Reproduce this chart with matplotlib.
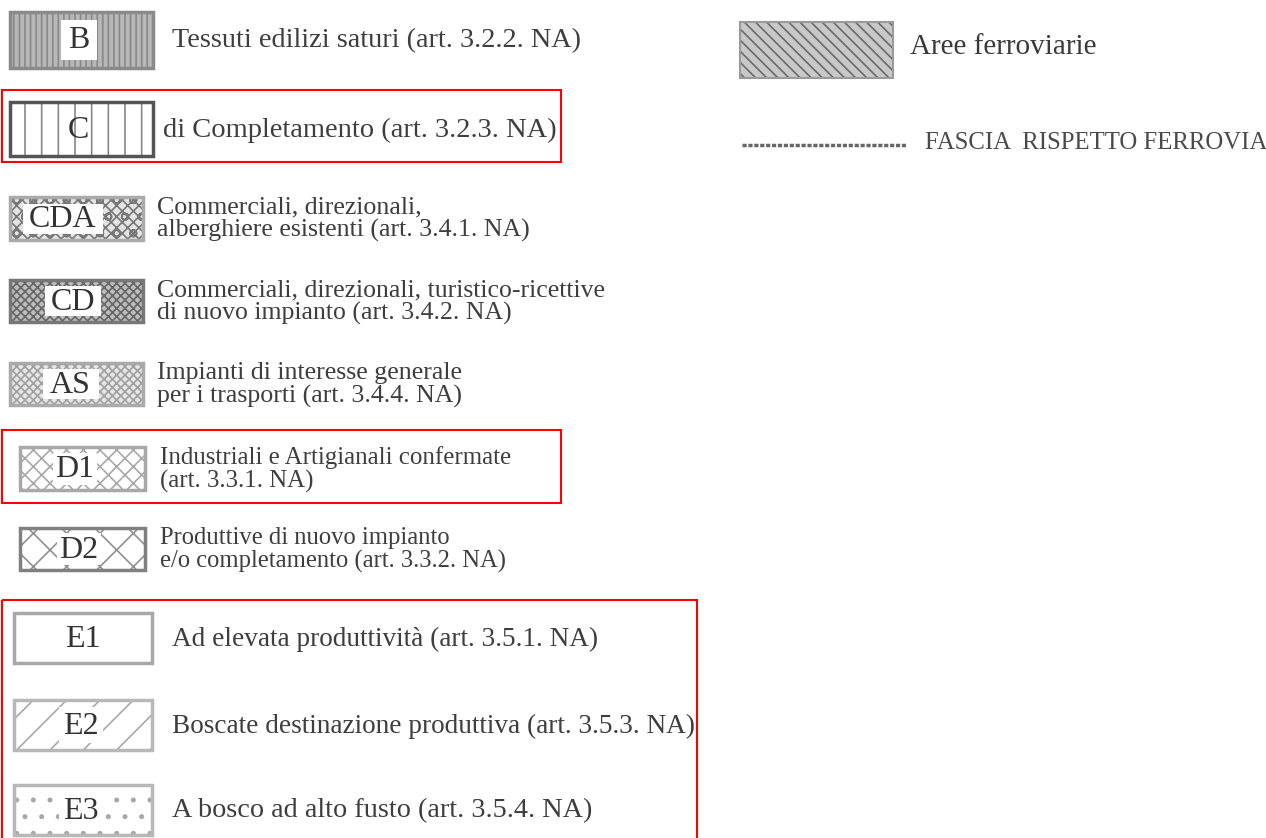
import matplotlib
matplotlib.use("Agg")
from matplotlib import pyplot as plt
from matplotlib.patches import Rectangle

plt.rcParams['font.family'] = ['Liberation Serif', 'DejaVu Serif']
plt.rcParams['hatch.linewidth'] = 1.2

# voci della legenda (colonna sinistra)
codici = ["B", "C", "CDA", "CD", "AS", "D1", "D2", "E1", "E2", "E3"]
descrizioni = [
    "Tessuti edilizi saturi (art. 3.2.2. NA)",
    "di Completamento (art. 3.2.3. NA)",
    "Commerciali, direzionali,\nalberghiere esistenti (art. 3.4.1. NA)",
    "Commerciali, direzionali, turistico-ricettive\ndi nuovo impianto (art. 3.4.2. NA)",
    "Impianti di interesse generale\nper i trasporti (art. 3.4.4. NA)",
    "Industriali e Artigianali confermate\n(art. 3.3.1. NA)",
    "Produttive di nuovo impianto\ne/o completamento (art. 3.3.2. NA)",
    "Ad elevata produttività (art. 3.5.1. NA)",
    "Boscate destinazione produttiva (art. 3.5.3. NA)",
    "A bosco ad alto fusto (art. 3.5.4. NA)",
]
# voci colonna destra
voci_destra = ["Aree ferroviarie", "FASCIA  RISPETTO FERROVIA"]

# layout: riquadro (x, y, larghezza, altezza), x testo, dimensione testo
riquadri = [
    (10, 12, 143, 56), (10, 102, 143, 54), (10, 197, 133, 43), (10, 280, 133, 42),
    (10, 363, 133, 42), (20, 447, 125, 43), (20, 528, 125, 42), (14, 613, 138, 50),
    (14, 700, 138, 50), (14, 785, 138, 50),
]
etichetta_dx = [-3, -3, -14, -4, -6, -8, -4, 0, -2, -2]
testo_x = [172, 163, 157, 157, 157, 160, 160, 172, 172, 172]
testo_fs = [20.3, 20.5, 18.6, 18.5, 18.6, 17.9, 17.7, 19.6, 19.6, 20.3]
stili = [
    dict(fc='#b8b8b8', hatch='|||', ec='#888888', inner=(36, 40)),
    dict(fc='white', hatch='|', ec='#888888', inner=None),
    dict(fc='#e4e4e4', hatch='xxxo', ec='#777777', inner=(80, 30)),
    dict(fc='#bdbdbd', hatch='xxxx', ec='#666666', inner=(56, 30)),
    dict(fc='#e6e6e6', hatch='xxxx', ec='#a0a0a0', inner=(56, 30)),
    dict(fc='white', hatch='xx', ec='#a8a8a8', inner=(44, 32)),
    dict(fc='white', hatch='x', ec='#909090', inner=(44, 32)),
    dict(fc='white', hatch=None, ec='#999999', inner=None),
    dict(fc='white', hatch='/', ec='#a8a8a8', inner=(44, 36)),
    dict(fc='white', hatch='.', ec='#a8a8a8', inner=(44, 36)),
]
bordi = ['#8a8a8a', '#555555', '#aaaaaa', '#777777', '#aaaaaa',
         '#a8a8a8', '#808080', '#a8a8a8', '#b8b8b8', '#b8b8b8']

fig = plt.figure(figsize=(12.66, 8.38), dpi=100)
ax = fig.add_axes([0, 0, 1, 1])
ax.set_xlim(0, 1266)
ax.set_ylim(838, 0)
ax.axis('off')

for i, cod in enumerate(codici):
    x, y, w, h = riquadri[i]
    st = stili[i]
    ax.add_patch(Rectangle((x, y), w, h, facecolor=st['fc'], edgecolor=st['ec'],
                           hatch=st['hatch'], linewidth=0))
    ax.add_patch(Rectangle((x, y), w, h, facecolor='none', edgecolor=bordi[i], linewidth=2.5))
    cx, cy = x + w / 2 + etichetta_dx[i], y + h / 2
    if st['inner']:
        iw, ih = st['inner']
        ax.add_patch(Rectangle((cx - iw / 2, cy - ih / 2), iw, ih,
                               facecolor='white', edgecolor='none'))
    ax.text(cx, cy + 1, cod, ha='center', va='center', fontsize=23, color='#333333')
    ax.text(testo_x[i], cy + 1, descrizioni[i], ha='left', va='center',
            fontsize=testo_fs[i], color='#3e3e3e', linespacing=1.02)

# colonna destra
ax.add_patch(Rectangle((740, 22), 153, 56, facecolor='#c8c8c8', edgecolor='#6a6a6a',
                       hatch='\\\\\\', linewidth=0))
ax.add_patch(Rectangle((740, 22), 153, 56, facecolor='none', edgecolor='#9a9a9a', linewidth=1.5))
ax.text(910, 47, voci_destra[0], ha='left', va='center', fontsize=21, color='#3a3a3a')
ax.plot([742, 907], [145, 145], color='#666666', linewidth=2.5, linestyle=(0, (1.2, 0.5)))
ax.text(925, 143, voci_destra[1], ha='left', va='center', fontsize=17.8, color='#4a4a4a')

# riquadri rossi di evidenziazione
for (x0, y0, x1, y1) in [(2, 90, 561, 162), (2, 430, 561, 503), (2, 600, 697, 845)]:
    ax.add_patch(Rectangle((x0, y0), x1 - x0, y1 - y0, facecolor='none',
                           edgecolor='#ff0000', linewidth=1.5))

fig.savefig('out.png', dpi=100)
